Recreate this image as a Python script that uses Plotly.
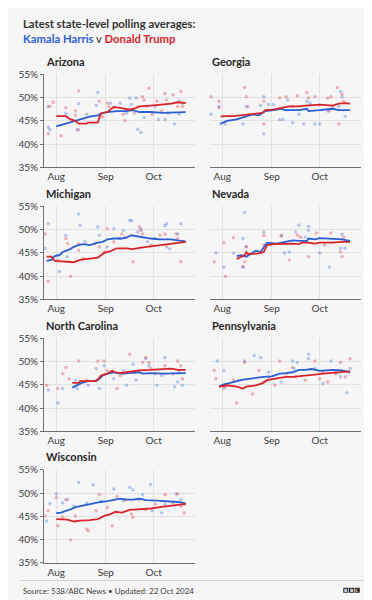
import plotly.graph_objects as go

YEAR = "2024-"
STATES = ["Arizona", "Georgia", "Michigan", "Nevada", "North Carolina", "Pennsylvania", "Wisconsin"]
MONTH_TICKS = ["2024-08-01", "2024-09-01", "2024-10-01"]
MONTH_LABELS = ["Aug", "Sep", "Oct"]
Y_TICKS = [35, 40, 45, 50, 55]
Y_LABELS = ["35%", "40%", "45%", "50%", "55%"]

# ---------- Arizona ----------
AZ_H_AVG_D = ["08-01","08-06","08-10","08-14","08-18","08-22","08-27","08-30","09-02","09-08","09-14","09-18","09-22","09-29","10-07","10-16","10-21"]
AZ_H_AVG = [43.8,44.3,44.6,45.0,45.5,45.9,46.2,46.7,46.9,47.1,47.1,47.3,46.9,46.9,46.7,46.9,46.9]
AZ_T_AVG_D = ["08-01","08-07","08-10","08-13","08-15","08-20","08-21","08-27","08-28","08-29","09-02","09-06","09-10","09-16","09-20","09-22","09-29","10-05","10-12","10-16","10-21"]
AZ_T_AVG = [46.0,46.0,45.3,45.0,44.4,44.4,44.6,44.6,45.7,46.6,46.9,48.0,47.8,47.4,47.8,48.1,48.3,48.5,48.7,49.0,48.8]
AZ_H_POLL_D = ["07-23","07-27","07-28","07-27","08-07","08-14","08-15","08-20","08-26","08-27","09-04","09-10","09-14","09-16","09-17","09-20","09-21","09-23","09-25","10-02","10-04","10-08","10-10","10-14","10-17","10-19"]
AZ_H_POLL = [43.2,48.1,43.1,43.6,46.6,43.1,48.7,46.4,48.3,51.1,48.8,48.8,46.7,49.9,48.5,49.9,43.2,42.5,45.7,48.1,45.3,45.3,46.7,44.3,46.4,48.8]
AZ_T_POLL_D = ["07-23","07-28","07-30","07-27","08-04","08-07","08-13","08-13","08-15","08-15","08-28","08-30","09-02","09-03","09-06","09-12","09-13","09-19","09-24","09-25","09-27","09-28","09-30","10-03","10-06","10-08","10-09","10-13","10-16","10-17","10-18","10-19"]
AZ_T_POLL = [46.0,48.1,49.0,42.2,41.8,47.8,46.2,47.1,51.5,43.1,49.2,45.9,48.8,48.1,47.8,46.4,45.0,46.7,50.2,49.5,48.1,52.0,46.4,49.2,47.1,50.9,49.5,50.6,48.1,49.2,51.3,48.1]

# ---------- Georgia ----------
GA_H_AVG_D = ["07-31","08-04","08-10","08-16","08-20","08-24","08-28","09-02","09-07","09-09","09-18","09-23","09-24","10-01","10-09","10-13","10-20"]
GA_H_AVG = [44.4,45.0,45.3,46.0,46.4,46.2,47.1,47.3,47.6,47.3,47.3,47.6,47.1,47.3,47.6,47.3,47.3]
GA_T_AVG_D = ["07-31","08-02","08-08","08-14","08-20","08-26","08-28","09-02","09-07","09-12","09-18","09-22","10-01","10-09","10-13","10-17","10-20"]
GA_T_AVG = [45.9,46.0,46.0,46.2,46.4,46.7,47.3,47.4,47.8,48.1,48.1,48.3,48.5,48.3,48.7,48.8,48.7]
GA_H_POLL_D = ["07-23","07-25","07-30","07-31","08-03","08-14","08-16","08-25","08-27","08-27","08-30","09-02","09-06","09-08","09-11","09-14","09-18","09-21","09-23","09-25","09-28","10-01","10-06","10-13","10-14","10-15","10-17"]
GA_H_POLL = [42.2,46.4,48.1,44.3,44.3,44.3,48.1,48.3,50.2,42.2,48.5,48.5,45.3,45.3,49.5,44.6,46.4,44.3,49.2,48.8,44.3,44.3,47.1,48.1,51.3,50.2,46.0]
GA_T_POLL_D = ["07-23","07-25","07-30","07-30","08-15","08-16","08-17","08-27","08-27","09-06","09-10","09-14","09-17","09-23","09-24","09-28","10-06","10-07","10-08","10-09","10-12","10-15","10-13","10-16"]
GA_T_POLL = [47.1,50.2,49.2,47.8,52.2,50.2,48.1,44.3,49.2,49.9,50.2,48.1,50.4,51.1,49.9,50.2,49.9,47.1,50.2,48.1,52.2,50.8,44.3,49.2]

# ---------- Michigan ----------
MI_H_AVG_D = ["07-26","07-29","07-31","08-03","08-05","08-07","08-09","08-12","08-15","08-18","08-22","08-27","08-30","09-02","09-06","09-11","09-14","09-17","09-20","09-24","09-29","10-05","10-12","10-16","10-21"]
MI_H_AVG = [43.3,43.5,44.3,44.5,45.2,45.4,45.7,46.3,46.7,46.9,46.7,47.2,47.4,47.9,48.1,48.1,48.3,48.8,48.6,48.3,48.1,47.9,47.9,47.7,47.5]
MI_T_AVG_D = ["07-26","07-29","07-31","08-06","08-12","08-16","08-20","08-27","08-29","08-31","09-04","09-08","09-14","09-18","09-22","09-29","10-05","10-12","10-16","10-21"]
MI_T_AVG = [44.2,44.2,43.3,43.1,43.0,43.5,43.7,44.0,44.5,45.0,45.4,46.0,46.0,45.8,46.1,46.4,46.7,47.0,47.2,47.4]
MI_H_POLL_D = ["07-23","07-25","07-27","08-02","08-03","08-07","08-08","08-15","08-16","08-19","08-27","08-28","09-02","09-06","09-10","09-12","09-16","09-17","09-21","09-23","09-27","10-02","10-08","10-09","10-11","10-16","10-18"]
MI_H_POLL = [41.4,46.0,51.3,44.5,41.0,48.8,44.2,53.4,50.9,47.4,50.6,48.8,46.3,50.2,48.1,49.8,52.0,52.0,49.5,50.2,47.4,48.1,50.9,51.3,45.9,49.1,51.3]
MI_T_POLL_D = ["07-23","07-25","07-27","08-02","08-07","08-08","08-10","08-15","08-15","08-18","08-25","08-28","08-31","09-02","09-06","09-11","09-13","09-18","09-22","09-23","09-24","09-29","10-05","10-08","10-09","10-15","10-18","10-16"]
MI_T_POLL = [41.7,49.1,38.9,43.5,48.1,47.0,40.0,47.0,45.6,43.8,47.0,46.3,45.2,50.2,47.4,49.1,48.4,43.1,50.6,49.8,49.1,46.7,48.8,49.1,46.3,49.1,43.1,48.1]

# ---------- Nevada ----------
NV_H_AVG_D = ["08-10","08-13","08-16","08-19","08-22","08-25","08-27","08-29","09-04","09-10","09-14","09-18","09-23","09-24","09-28","10-01","10-09","10-15","10-20"]
NV_H_AVG = [44.3,44.5,44.2,44.8,45.5,45.2,46.3,47.2,47.0,47.4,47.7,47.6,47.6,48.1,47.9,48.2,48.1,47.9,47.6]
NV_T_AVG_D = ["08-10","08-12","08-15","08-16","08-17","08-20","08-24","08-27","08-29","09-02","09-08","09-14","09-18","09-20","09-24","09-28","10-01","10-09","10-15","10-20"]
NV_T_AVG = [43.7,44.0,44.5,45.2,44.8,44.8,44.9,45.2,46.7,46.9,47.0,47.0,46.9,47.2,47.2,47.0,47.2,47.2,47.4,47.4]
NV_H_POLL_D = ["07-23","07-28","08-02","08-08","08-14","08-15","08-14","08-16","08-27","09-07","09-09","09-12","09-16","09-18","09-22","09-24","09-24","10-01","10-07","10-14","10-15","10-17"]
NV_H_POLL = [43.1,45.0,41.9,45.0,48.1,53.7,41.9,46.4,49.5,48.8,45.0,45.2,49.5,51.0,48.4,50.7,49.8,45.0,41.9,46.0,49.0,46.0]
NV_T_POLL_D = ["07-23","07-27","08-02","08-03","08-08","08-14","08-15","08-16","08-27","08-27","09-07","09-12","09-17","09-19","09-24","09-29","10-04","10-08","10-14","10-15","10-16"]
NV_T_POLL = [45.0,43.1,47.2,40.0,48.3,42.1,43.1,46.3,46.7,48.8,48.6,43.5,48.8,48.4,44.2,49.3,46.7,49.3,45.2,44.2,48.4]

# ---------- North Carolina ----------
NC_H_AVG_D = ["08-11","08-14","08-17","08-21","08-26","08-28","08-30","09-02","09-06","09-08","09-12","09-18","09-22","09-24","09-29","10-07","10-14","10-21"]
NC_H_AVG = [44.4,44.9,45.4,45.8,45.8,46.3,47.0,47.4,47.7,47.5,47.4,47.6,47.7,47.4,47.5,47.4,47.5,47.5]
NC_T_AVG_D = ["08-11","08-15","08-16","08-25","08-27","08-29","09-02","09-05","09-07","09-10","09-14","09-18","09-22","09-29","10-05","10-12","10-16","10-21"]
NC_T_AVG = [45.4,45.4,45.8,45.8,46.1,47.0,47.4,48.0,47.7,47.5,47.7,47.9,48.1,48.2,48.4,48.5,48.2,48.2]
NC_H_POLL_D = ["07-23","07-27","08-02","08-05","08-13","08-14","08-21","08-26","08-28","08-31","09-06","09-12","09-14","09-18","09-20","09-26","09-28","10-03","10-06","10-08","10-14","10-16","10-17","10-19"]
NC_H_POLL = [43.0,43.9,41.1,44.2,46.0,44.2,44.9,48.5,44.2,49.1,46.3,48.1,44.9,49.4,46.0,50.6,49.1,44.9,47.0,50.9,44.6,45.6,47.7,44.9]
NC_T_POLL_D = ["07-23","07-26","08-02","08-05","08-07","08-09","08-15","08-20","08-27","08-31","09-02","09-08","09-10","09-16","09-19","09-24","09-26","09-28","09-29","10-02","10-08","10-13","10-16","10-18","10-19"]
NC_T_POLL = [46.3,44.9,44.2,47.4,48.7,46.3,50.1,46.0,50.1,50.1,48.1,44.2,47.0,51.6,47.7,49.8,50.9,49.8,48.5,47.4,49.1,47.4,50.1,49.1,46.3]

# ---------- Pennsylvania ----------
PA_H_AVG_D = ["07-30","08-02","08-06","08-10","08-14","08-18","08-22","08-27","09-01","09-06","09-10","09-14","09-18","09-22","09-26","10-01","10-05","10-09","10-15","10-20"]
PA_H_AVG = [44.6,45.1,45.4,45.8,46.1,46.3,46.5,46.7,46.8,47.4,47.5,47.7,48.2,48.2,48.4,48.0,48.1,48.2,48.1,47.7]
PA_T_AVG_D = ["07-30","08-04","08-10","08-14","08-16","08-22","08-26","08-29","09-06","09-10","09-14","09-18","09-22","09-28","10-03","10-09","10-15","10-20"]
PA_T_AVG = [44.6,44.9,44.6,44.2,44.6,44.9,45.3,46.0,46.5,46.7,46.7,46.8,47.0,47.2,47.4,47.6,47.7,47.9]
PA_H_POLL_D = ["07-23","07-23","07-29","08-02","08-03","08-11","08-15","08-21","08-25","08-30","09-07","09-14","09-15","09-17","09-24","09-24","09-28","10-03","10-08","10-11","10-14","10-18","10-20"]
PA_H_POLL = [42.1,44.9,50.1,48.1,44.6,46.0,50.1,51.3,50.9,47.7,45.6,50.1,48.5,49.8,51.6,50.6,48.5,45.3,50.1,47.7,46.7,43.3,48.5]
PA_T_POLL_D = ["07-23","07-23","07-27","07-28","08-02","08-08","08-10","08-15","08-20","08-24","08-27","08-30","09-03","09-06","09-10","09-14","09-16","09-22","09-28","10-01","10-03","10-06","10-11","10-14","10-17","10-20"]
PA_T_POLL = [46.1,43.0,48.1,46.3,44.2,46.0,41.1,49.8,43.0,48.1,45.6,46.7,44.9,50.1,47.4,48.7,46.7,46.0,50.1,46.3,47.7,45.6,47.4,49.8,46.7,50.6]

# ---------- Wisconsin ----------
WI_H_AVG_D = ["08-01","08-04","08-07","08-10","08-13","08-16","08-20","08-25","08-29","09-02","09-06","09-10","09-14","09-18","09-22","09-26","10-03","10-09","10-16","10-21"]
WI_H_AVG = [45.7,45.8,46.2,46.5,47.0,47.2,47.6,47.9,48.1,48.3,48.6,48.8,48.6,48.6,48.8,48.5,48.4,48.3,48.1,47.8]
WI_T_AVG_D = ["08-01","08-08","08-12","08-16","08-22","08-27","08-31","09-04","09-07","09-11","09-16","09-22","09-29","10-05","10-09","10-14","10-21"]
WI_T_AVG = [44.4,44.3,43.9,44.1,44.2,44.4,45.1,45.5,46.0,45.8,46.4,46.5,46.7,47.0,47.2,47.4,47.7]
WI_H_POLL_D = ["07-23","07-26","07-28","08-01","08-05","08-08","08-12","08-15","08-20","08-24","08-29","09-06","09-12","09-16","09-18","09-24","09-29","09-30","10-06","10-08","10-15","10-18","10-20"]
WI_H_POLL = [44.8,44.0,47.7,49.9,47.9,48.6,47.2,52.3,47.9,51.8,48.3,50.9,48.3,51.2,50.7,49.7,51.9,46.2,45.8,47.6,49.8,48.6,47.6]
WI_T_POLL_D = ["07-23","07-25","07-27","08-01","08-02","08-05","08-07","08-10","08-13","08-20","08-21","08-26","08-28","09-02","09-05","09-08","09-13","09-17","09-18","09-22","09-26","10-02","10-08","10-13","10-16","10-18","10-20"]
WI_T_POLL = [44.0,45.1,46.2,49.0,43.0,44.8,48.6,39.9,45.1,42.3,41.9,46.2,49.7,46.9,43.0,49.3,48.6,45.5,44.8,48.6,46.5,47.6,49.7,47.9,49.8,47.2,45.8]

PANEL_DATA = [
    (AZ_H_AVG_D, AZ_H_AVG, AZ_T_AVG_D, AZ_T_AVG, AZ_H_POLL_D, AZ_H_POLL, AZ_T_POLL_D, AZ_T_POLL),
    (GA_H_AVG_D, GA_H_AVG, GA_T_AVG_D, GA_T_AVG, GA_H_POLL_D, GA_H_POLL, GA_T_POLL_D, GA_T_POLL),
    (MI_H_AVG_D, MI_H_AVG, MI_T_AVG_D, MI_T_AVG, MI_H_POLL_D, MI_H_POLL, MI_T_POLL_D, MI_T_POLL),
    (NV_H_AVG_D, NV_H_AVG, NV_T_AVG_D, NV_T_AVG, NV_H_POLL_D, NV_H_POLL, NV_T_POLL_D, NV_T_POLL),
    (NC_H_AVG_D, NC_H_AVG, NC_T_AVG_D, NC_T_AVG, NC_H_POLL_D, NC_H_POLL, NC_T_POLL_D, NC_T_POLL),
    (PA_H_AVG_D, PA_H_AVG, PA_T_AVG_D, PA_T_AVG, PA_H_POLL_D, PA_H_POLL, PA_T_POLL_D, PA_T_POLL),
    (WI_H_AVG_D, WI_H_AVG, WI_T_AVG_D, WI_T_AVG, WI_H_POLL_D, WI_H_POLL, WI_T_POLL_D, WI_T_POLL),
]

# ---------- styling / layout ----------
W, H = 372, 600
BLUE = "#2a5fd2"
RED = "#d8232a"
BG = "#f6f6f6"
FONT = "Lato"
COL_X0 = [36, 202]
PW = 151
ROW_TOP = [60.7, 195.7, 330.5, 465.0]
PH = 95
X_RANGE = ["2024-07-24 08:00", "2024-10-26 20:00"]


def d(lst):
    return [YEAR + s for s in lst]


fig = go.Figure()
layout = dict(
    width=W, height=H, margin=dict(l=0, r=0, t=0, b=0),
    paper_bgcolor=BG, plot_bgcolor=BG, showlegend=False,
    font=dict(family=FONT, color="#404040"),
)
annotations = []
shapes = []

for i, name in enumerate(STATES):
    row, col = divmod(i, 2)
    x0 = COL_X0[col]
    top = ROW_TOP[row]
    k = "" if i == 0 else str(i + 1)
    xa, ya = "x" + k, "y" + k
    hd, hv, td, tv, hpd, hpv, tpd, tpv = PANEL_DATA[i]

    for dd, vv, c in ((hpd, hpv, BLUE), (tpd, tpv, RED)):
        fig.add_trace(go.Scatter(x=d(dd), y=vv, mode="markers", xaxis=xa, yaxis=ya,
                                 marker=dict(color=c, size=3.5, opacity=0.32),
                                 cliponaxis=False, hoverinfo="skip"))
    for dd, vv, c in ((hd, hv, BLUE), (td, tv, RED)):
        fig.add_trace(go.Scatter(x=d(dd), y=vv, mode="lines", xaxis=xa, yaxis=ya,
                                 line=dict(color=c, width=1.8)))

    left = col == 0
    layout["xaxis" + k] = dict(
        domain=[x0 / W, (x0 + PW) / W], anchor=ya, range=X_RANGE, type="date",
        tickmode="array", tickvals=MONTH_TICKS, ticktext=MONTH_LABELS, ticks="",
        showgrid=True, gridcolor="#e2e2e2", gridwidth=1,
        showline=True, linecolor="#707070", linewidth=1, zeroline=False,
        tickfont=dict(size=10, color="#3c3c3c", family=FONT), fixedrange=True,
    )
    layout["yaxis" + k] = dict(
        domain=[1 - (top + PH) / H, 1 - top / H], anchor=xa, range=[35, 55],
        tickmode="array", tickvals=Y_TICKS, ticktext=Y_LABELS, showticklabels=left,
        ticks="outside" if left else "", ticklen=3, tickcolor="#707070",
        showgrid=True, gridcolor="#e2e2e2", gridwidth=1,
        showline=left, linecolor="#707070", linewidth=1, zeroline=False,
        tickfont=dict(size=10, color="#3c3c3c", family=FONT), fixedrange=True,
    )
    annotations.append(dict(
        text="<b>" + name + "</b>", xref="paper", yref="paper",
        x=x0 / W, y=1 - (top - 13.4) / H, xanchor="left", yanchor="middle",
        showarrow=False, font=dict(size=11, color="#262626", family=FONT),
    ))

# Title
annotations.append(dict(
    text="<b>Latest state-level polling averages:</b>", xref="paper", yref="paper",
    x=12.5 / W, y=1 - 8.3 / H, xanchor="left", yanchor="middle", showarrow=False,
    font=dict(size=11.3, color="#333333", family=FONT),
))
annotations.append(dict(
    text=f"<b><span style='color:{BLUE}'>Kamala Harris</span></b> v "
         f"<b><span style='color:{RED}'>Donald Trump</span></b>",
    xref="paper", yref="paper",
    x=12.5 / W, y=1 - 24.3 / H, xanchor="left", yanchor="middle", showarrow=False,
    font=dict(size=11.3, color="#333333", family=FONT),
))

# Footer
shapes.append(dict(type="line", xref="paper", yref="paper",
                   x0=12.5 / W, x1=361.5 / W, y0=1 - 578 / H, y1=1 - 578 / H,
                   line=dict(color="#cfcfcf", width=1)))
annotations.append(dict(
    text="Source: 538/ABC News \u2022 Updated: 22 Oct 2024", xref="paper", yref="paper",
    x=12.5 / W, y=1 - 588.3 / H, xanchor="left", yanchor="middle", showarrow=False,
    font=dict(size=8, color="#404040", family=FONT),
))
for j, letter in enumerate("BBC"):
    bx0 = 335.3 + j * 5.7
    shapes.append(dict(type="rect", xref="paper", yref="paper",
                       x0=bx0 / W, x1=(bx0 + 5) / W, y0=1 - 590.5 / H, y1=1 - 585.5 / H,
                       fillcolor="#1a1a1a", line=dict(width=0)))
    annotations.append(dict(text="<b>" + letter + "</b>", xref="paper", yref="paper",
                            x=(bx0 + 2.5) / W, y=1 - 588 / H, xanchor="center", yanchor="middle",
                            showarrow=False, font=dict(size=4.5, color="white", family="DejaVu Sans")))

layout["annotations"] = annotations
layout["shapes"] = shapes
fig.update_layout(**layout)
fig.write_html("out.html", config={"displayModeBar": False})
